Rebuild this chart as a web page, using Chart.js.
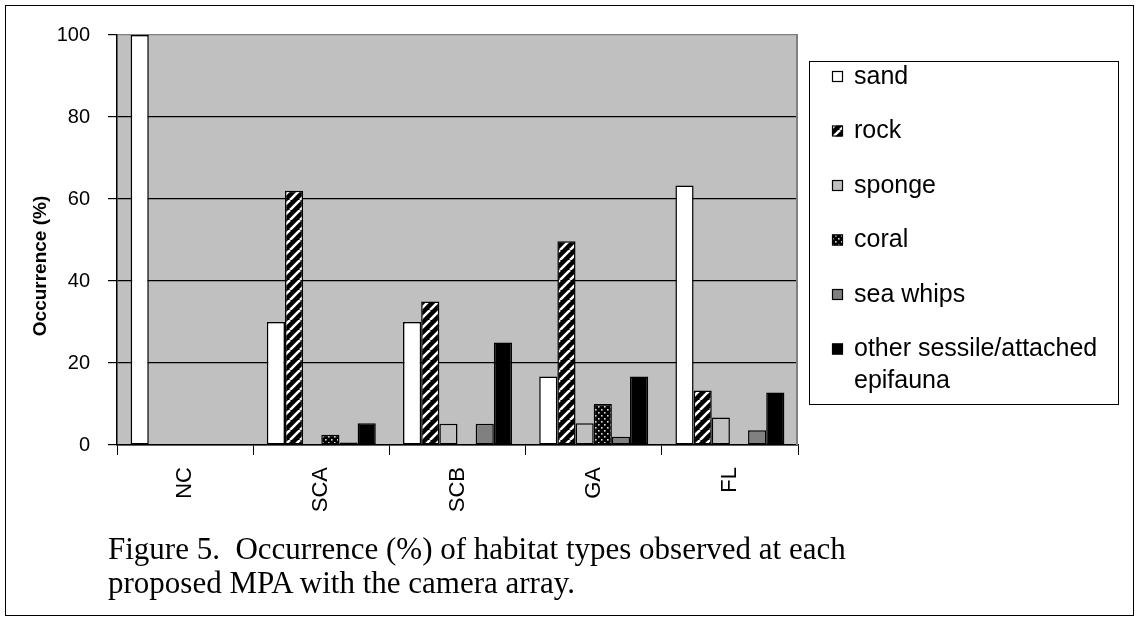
<!DOCTYPE html>
<html>
<head>
<meta charset="utf-8">
<script src="https://cdn.jsdelivr.net/npm/chart.js@4/dist/chart.umd.min.js"></script>
<style>
  html, body { margin: 0; padding: 0; background: #fff; }
  #wrap { position: relative; width: 1136px; height: 620px; }
  #frame { position: absolute; left: 5px; top: 5px; width: 1127px; height: 609px; border: 1px solid #000; pointer-events: none; }
  #caption { position: absolute; left: 108px; top: 532px; font: 31px/34px "Liberation Serif", "Times New Roman", serif; color: #000; white-space: pre; }
</style>
</head>
<body>
<div id="wrap">
  <canvas id="habitatChart" width="1136" height="620"></canvas>
  <div id="frame"></div>
  <div id="caption">Figure 5.  Occurrence (%) of habitat types observed at each
proposed MPA with the camera array.</div>
</div>
<script>
const sites = ['NC', 'SCA', 'SCB', 'GA', 'FL'];
const sand = [100, 30, 30, 16.7, 63.3];
const rock = [0, 62, 35, 49.7, 13.3];
const sponge = [0, 0, 5.2, 5.3, 6.7];
const coral = [0, 2.5, 0, 10, 0];
const seaWhips = [0, 0.6, 5.2, 2, 3.6];
const otherEpifauna = [0, 5.3, 25, 16.7, 12.8];
const habitatNames = ['sand', 'rock', 'sponge', 'coral', 'sea whips', ['other sessile/attached', 'epifauna']];
const yTitle = 'Occurrence (%)';

const SANS = '"Liberation Sans", Arial, sans-serif';

// hatch fills
function stripes() {
    const c = document.createElement('canvas');
    c.width = 10; c.height = 10;
    const g = c.getContext('2d');
    g.fillStyle = '#000';
    g.fillRect(0, 0, 10, 10);
    g.strokeStyle = '#fff';
    g.lineWidth = 2.6;
    for (const o of [-10, 0, 10]) {
        g.beginPath();
        g.moveTo(o, 10);
        g.lineTo(o + 10, 0);
        g.stroke();
    }
    return g.createPattern(c, 'repeat');
}
function dots() {
    const c = document.createElement('canvas');
    c.width = 6; c.height = 6;
    const g = c.getContext('2d');
    g.fillStyle = '#000';
    g.fillRect(0, 0, 6, 6);
    g.fillStyle = '#ddd';
    g.fillRect(1, 1, 1.6, 1.6);
    g.fillRect(4, 4, 1.6, 1.6);
    return g.createPattern(c, 'repeat');
}
const rockFill = stripes();
const coralFill = dots();
const fills = ['#ffffff', rockFill, '#c0c0c0', coralFill, '#808080', '#000000'];
const series = [sand, rock, sponge, coral, seaWhips, otherEpifauna];

const plotBack = {
    id: 'plotBack',
    beforeDraw(chart) {
        const { ctx, chartArea: a } = chart;
        ctx.save();
        ctx.fillStyle = '#c0c0c0';
        ctx.fillRect(a.left, a.top, a.right - a.left, a.bottom - a.top);
        ctx.restore();
    },
    beforeDatasetsDraw(chart) {
        const { ctx, chartArea: a } = chart;
        ctx.save();
        ctx.strokeStyle = '#808080';
        ctx.lineWidth = 2;
        ctx.beginPath();
        ctx.moveTo(a.right - 1, a.top);
        ctx.lineTo(a.right - 1, a.bottom);
        ctx.stroke();
        ctx.restore();
    },
    afterDraw(chart) {
        // rotated y axis title
        const ctx = chart.ctx;
        ctx.save();
        ctx.translate(41, 266);
        ctx.rotate(-Math.PI / 2);
        ctx.font = 'bold 19px ' + SANS;
        ctx.fillStyle = '#000';
        ctx.textAlign = 'center';
        ctx.textBaseline = 'middle';
        ctx.fillText(yTitle, 0, 0);
        ctx.restore();
    }
};

// boxed legend to the right of the plot
const boxLegend = {
    id: 'boxLegend',
    afterDraw(chart) {
        const ctx = chart.ctx;
        ctx.save();
        ctx.fillStyle = '#fff';
        ctx.fillRect(809, 61, 309, 343);
        ctx.strokeStyle = '#000';
        ctx.lineWidth = 1;
        ctx.strokeRect(809.5, 61.5, 309, 343);
        ctx.font = '25px ' + SANS;
        ctx.textBaseline = 'middle';
        habitatNames.forEach((name, i) => {
            const y = 76 + i * 54.5;
            ctx.fillStyle = fills[i];
            ctx.fillRect(832, y - 5, 11, 11);
            ctx.strokeStyle = '#000';
            ctx.lineWidth = 1.2;
            ctx.strokeRect(832.5, y - 4.5, 10, 10);
            ctx.fillStyle = '#000';
            const lines = Array.isArray(name) ? name : [name];
            lines.forEach((t, k) => ctx.fillText(t, 854, y + 1 + k * 32));
        });
        ctx.restore();
    }
};

new Chart('habitatChart', {
    type: 'bar',
    data: {
        labels: sites,
        datasets: series.map((d, i) => ({
            label: Array.isArray(habitatNames[i]) ? habitatNames[i].join(' ') : habitatNames[i],
            data: d,
            backgroundColor: fills[i],
            borderColor: '#000',
            borderWidth: 1.5,
            borderSkipped: false,
            barPercentage: 1,
            categoryPercentage: 0.8
        }))
    },
    options: {
        responsive: false,
        animation: false,
        layout: { padding: { top: 35, right: 338, bottom: 0, left: 0 } },
        plugins: {
            legend: { display: false },
            tooltip: { enabled: false }
        },
        scales: {
            x: {
                afterFit(s) { s.height = 175; },
                grid: {
                    offset: true,
                    drawOnChartArea: false,
                    tickLength: 10,
                    color: '#000'
                },
                border: { color: '#000', width: 1.5 },
                ticks: {
                    minRotation: 90,
                    maxRotation: 90,
                    padding: 12,
                    color: '#000',
                    font: { family: SANS, size: 22 }
                }
            },
            y: {
                min: 0,
                max: 100,
                afterFit(s) { s.width = 117; },
                grid: {
                    tickLength: 9,
                    color: (c) => c.tick && c.tick.value === 100 ? '#808080' : '#000',
                    tickColor: '#000',
                    lineWidth: 1.2
                },
                border: { color: '#000', width: 1.5 },
                ticks: {
                    stepSize: 20,
                    padding: 18,
                    color: '#000',
                    font: { family: SANS, size: 20 }
                }
            }
        }
    },
    plugins: [plotBack, boxLegend]
});
</script>
</body>
</html>
